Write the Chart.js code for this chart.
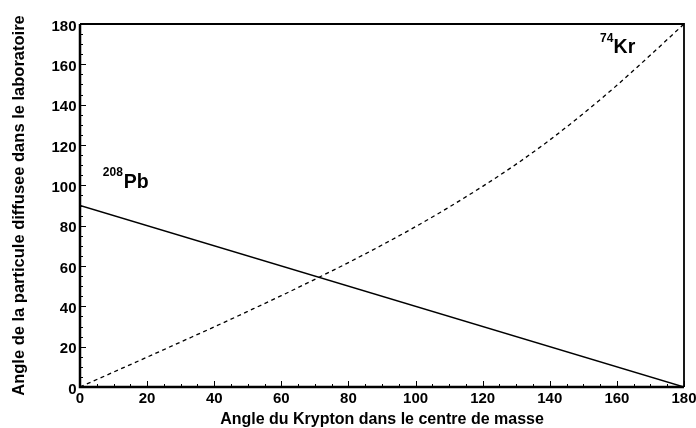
<!DOCTYPE html>
<html>
<head>
<meta charset="utf-8">
<script src="https://cdn.jsdelivr.net/npm/chart.js@4/dist/chart.umd.min.js"></script>
<style>
  html, body { margin: 0; padding: 0; background: #fff; }
</style>
</head>
<body>
<canvas id="kinChart" width="696" height="428"></canvas>
<script>
// angles (degrees)
const cmAngles = [0, 10, 20, 30, 40, 50, 60, 70, 80, 90, 100, 110, 120, 130, 140, 150, 160, 170, 180];
const krLabAngles = [0, 7.4, 14.8, 22.3, 29.8, 37.5, 45.3, 53.4, 61.7, 70.4, 79.5, 89.2, 99.5, 110.5, 122.5, 135.6, 149.6, 164.6, 180];
const pbCmAngles = [0, 180];
const pbLabAngles = [90, 0];
const tickValues = [0, 20, 40, 60, 80, 100, 120, 140, 160, 180];

const FONT = '"Liberation Sans", Arial, Helvetica, sans-serif';

// ROOT-style frame, inward ticks, axis titles and isotope labels
const frameAndLabels = {
  id: 'frameAndLabels',
  afterDatasetsDraw(chart) {
    const { ctx, chartArea: a, scales: { x, y } } = chart;
    ctx.save();
    ctx.strokeStyle = '#000';
    ctx.lineWidth = 1;
    for (let v = 0; v <= 180; v += 5) {
      const len = v % 20 === 0 ? 6 : 3;
      const px = Math.round(x.getPixelForValue(v)) + 0.5;
      ctx.beginPath(); ctx.moveTo(px, a.bottom); ctx.lineTo(px, a.bottom - len); ctx.stroke();
      const py = Math.round(y.getPixelForValue(v)) + 0.5;
      ctx.beginPath(); ctx.moveTo(a.left, py); ctx.lineTo(a.left + len, py); ctx.stroke();
    }

    // frame
    ctx.lineWidth = 1.8;
    ctx.beginPath();
    ctx.moveTo(a.left, a.top); ctx.lineTo(a.right, a.top); ctx.lineTo(a.right, a.bottom);
    ctx.stroke();
    ctx.lineWidth = 2.5;
    ctx.beginPath();
    ctx.moveTo(a.left, a.top); ctx.lineTo(a.left, a.bottom); ctx.lineTo(a.right, a.bottom);
    ctx.stroke();

    // axis titles
    ctx.fillStyle = '#000';
    ctx.font = 'bold 16px ' + FONT;
    ctx.textAlign = 'center';
    ctx.textBaseline = 'alphabetic';
    ctx.fillText('Angle du Krypton dans le centre de masse', (a.left + a.right) / 2, 424);
    ctx.save();
    ctx.translate(23.5, (a.top + a.bottom) / 2);
    ctx.rotate(-Math.PI / 2);
    ctx.font = 'bold 16.5px ' + FONT;
    ctx.fillText('Angle de la particule diffusee dans le laboratoire', 0, 0);
    ctx.restore();

    // isotope labels
    ctx.textAlign = 'left';
    const pbX = x.getPixelForValue(6.8), pbY = y.getPixelForValue(98.8);
    ctx.font = 'bold 12px ' + FONT;
    ctx.fillText('208', pbX, pbY - 11.5);
    ctx.font = 'bold 19.5px ' + FONT;
    ctx.fillText('Pb', pbX + 21, pbY);

    const krX = x.getPixelForValue(155), krY = y.getPixelForValue(165.5);
    ctx.font = 'bold 12px ' + FONT;
    ctx.fillText('74', krX, krY - 11.5);
    ctx.font = 'bold 19.5px ' + FONT;
    ctx.fillText('Kr', krX + 13.5, krY);
    ctx.restore();
  }
};

const fixAxis = (size, horizontal) => (scale) => {
  if (horizontal) {
    scale.height = size;
    scale.paddingLeft = 0;
    scale.paddingRight = 0;
  } else {
    scale.width = size;
    scale.paddingTop = 0;
    scale.paddingBottom = 0;
  }
};

const tickFont = { family: FONT, size: 15, weight: 'bold' };

new Chart(document.getElementById('kinChart'), {
  type: 'line',
  data: {
    datasets: [
      {
        label: '208Pb',
        data: pbCmAngles.map((v, i) => ({ x: v, y: pbLabAngles[i] })),
        borderColor: '#000',
        borderWidth: 1.5,
        pointRadius: 0,
        fill: false
      },
      {
        label: '74Kr',
        data: cmAngles.map((v, i) => ({ x: v, y: krLabAngles[i] })),
        borderColor: '#000',
        borderWidth: 1.3,
        borderDash: [4, 3.5],
        cubicInterpolationMode: 'monotone',
        pointRadius: 0,
        fill: false
      }
    ]
  },
  options: {
    responsive: false,
    animation: false,
    devicePixelRatio: 1,
    layout: { padding: { top: 24, right: 12, left: 0, bottom: 0 } },
    plugins: { legend: { display: false }, tooltip: { enabled: false } },
    scales: {
      x: {
        type: 'linear',
        min: 0,
        max: 180,
        afterBuildTicks: (s) => { s.ticks = tickValues.map(v => ({ value: v })); },
        afterFit: fixAxis(41, true),
        grid: { display: false, drawTicks: false },
        border: { display: false },
        ticks: { font: tickFont, color: '#000', padding: 3, autoSkip: false, maxRotation: 0 }
      },
      y: {
        type: 'linear',
        min: 0,
        max: 180,
        afterBuildTicks: (s) => { s.ticks = tickValues.map(v => ({ value: v })); },
        afterFit: fixAxis(80, false),
        grid: { display: false, drawTicks: false },
        border: { display: false },
        ticks: { font: tickFont, color: '#000', padding: 3.5, labelOffset: 2.5, autoSkip: false }
      }
    }
  },
  plugins: [frameAndLabels]
});
</script>
</body>
</html>
